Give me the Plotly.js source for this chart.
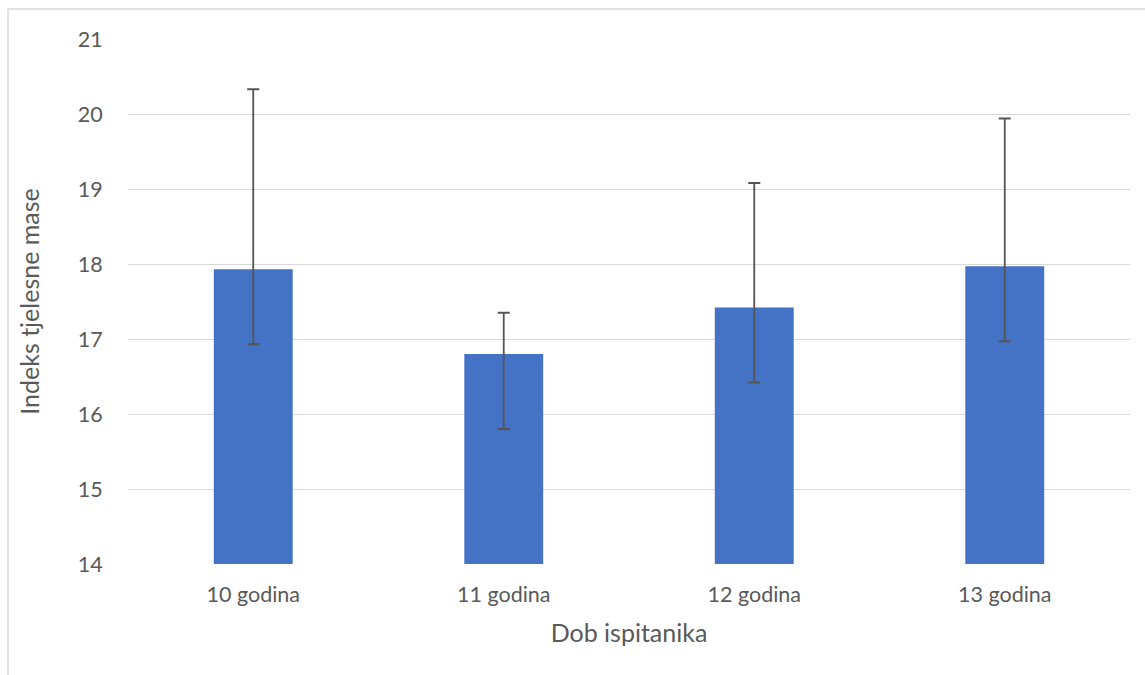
<!DOCTYPE html>
<html>
<head>
<meta charset="utf-8">
<script src="https://cdn.plot.ly/plotly-3.0.1.min.js"></script>
<style>html,body{margin:0;padding:0;background:#fff;}#chart{width:1145px;height:675px;}</style>
</head>
<body>
<div id="chart"></div>
<script>
const categories = ["10 godina", "11 godina", "12 godina", "13 godina"];
const meanBMI = [17.93, 16.80, 17.42, 17.97];
const errorUp = [2.40, 0.55, 1.66, 1.97];
const errorDown = [1.00, 1.00, 1.00, 1.00];
const yTicks = [14, 15, 16, 17, 18, 19, 20, 21];

const font = "Lato, 'Open Sans', sans-serif";
const textColor = "#595959";

const trace = {
  type: "bar",
  x: categories,
  y: meanBMI,
  marker: {color: "#4472C4"},
  width: 0.315,
  error_y: {
    type: "data",
    symmetric: false,
    array: errorUp,
    arrayminus: errorDown,
    color: "#555555",
    thickness: 1.8,
    width: 6
  },
  hoverinfo: "x+y"
};

const layout = {
  width: 1145,
  height: 675,
  margin: {l: 128, r: 15, t: 39, b: 111},
  paper_bgcolor: "#ffffff",
  plot_bgcolor: "#ffffff",
  showlegend: false,
  font: {family: font, color: textColor, size: 21},
  xaxis: {
    type: "category",
    showgrid: false,
    showline: false,
    zeroline: false,
    ticks: "outside",
    ticklen: 11,
    tickcolor: "rgba(0,0,0,0)",
    tickfont: {family: font, size: 21.5, color: textColor},
    title: {text: "Dob ispitanika", font: {family: font, size: 25, color: textColor}, standoff: 18}
  },
  yaxis: {
    range: [14, 21],
    tickvals: yTicks,
    showgrid: true,
    gridcolor: "#d9d9d9",
    gridwidth: 1,
    zeroline: false,
    showline: false,
    ticks: "outside",
    ticklen: 20,
    tickcolor: "rgba(0,0,0,0)",
    tickfont: {family: font, size: 21.5, color: textColor},
    title: {text: "Indeks tjelesne mase", font: {family: font, size: 25, color: textColor}, standoff: 30}
  },
  shapes: [{
    type: "rect",
    xref: "paper", yref: "paper",
    x0: (8 - 128) / 1002, x1: 1.2,
    y0: -0.5, y1: (564 - 9) / 525,
    line: {color: "#d9d9d9", width: 1.5},
    fillcolor: "rgba(0,0,0,0)",
    layer: "below"
  }]
};

Plotly.newPlot("chart", [trace], layout, {displayModeBar: false, staticPlot: true});
</script>
</body>
</html>
